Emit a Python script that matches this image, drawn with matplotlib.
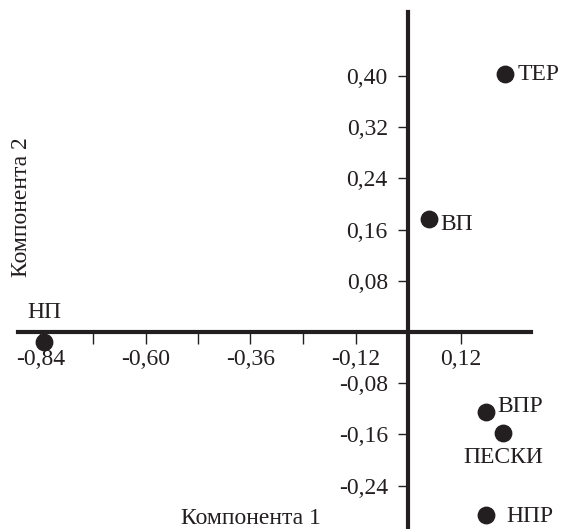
import matplotlib
matplotlib.use("Agg")
import matplotlib.pyplot as plt
from matplotlib.ticker import FixedLocator, FuncFormatter

plt.rcParams['font.family'] = ['Liberation Serif', 'DejaVu Serif']

names = ['ТЕР', 'ВП', 'НП', 'ВПР', 'ПЕСКИ', 'НПР']
comp1 = [0.222, 0.048, -0.832, 0.178, 0.217, 0.178]
comp2 = [0.403, 0.177, -0.016, -0.125, -0.158, -0.286]

x_labeled = [-0.84, -0.60, -0.36, -0.12, 0.12]
x_minor = [-0.72, -0.48, -0.24]
y_ticks = [-0.24, -0.16, -0.08, 0.08, 0.16, 0.24, 0.32, 0.40]

# label offsets in points (dx, dy, ha, va)
label_pos = {
    'ТЕР': (9, 0, 'left', 'center'),
    'ВП': (8, -4, 'left', 'center'),
    'НП': (0, 14, 'center', 'bottom'),
    'ВПР': (8, 4, 'left', 'center'),
    'ПЕСКИ': (0, -10, 'center', 'top'),
    'НПР': (15, -1, 'left', 'center'),
}

fs = 17
fig = plt.figure(figsize=(5.68, 5.29), dpi=100)
ax = fig.add_axes([0, 0, 1, 1])
ax.set_xlim(-408/437.5, 160/437.5)
ax.set_ylim((332-529)/640, 332/640)

col = '#231f20'
ax.scatter(comp1, comp2, s=140, color=col, zorder=5, clip_on=False)
for n, x, y in zip(names, comp1, comp2):
    dx, dy, ha, va = label_pos[n]
    ax.annotate(n, (x, y), xytext=(dx, dy), textcoords='offset points',
                ha=ha, va=va, fontsize=fs, color=col)

for s in ['top', 'right']:
    ax.spines[s].set_visible(False)
ax.spines['left'].set_position(('data', 0))
ax.spines['bottom'].set_position(('data', 0))
ax.spines['left'].set_bounds(-0.31, 0.50)
ax.spines['bottom'].set_bounds(-0.891, 0.282)
for s in ['left', 'bottom']:
    ax.spines[s].set_linewidth(3.0)
    ax.spines[s].set_color(col)

fmt = FuncFormatter(lambda v, p: f"{v:.2f}".replace('.', ','))
ax.xaxis.set_major_locator(FixedLocator(x_labeled))
ax.xaxis.set_minor_locator(FixedLocator(x_minor))
ax.xaxis.set_major_formatter(fmt)
ax.yaxis.set_major_locator(FixedLocator(y_ticks))
ax.yaxis.set_major_formatter(fmt)
ax.tick_params(axis='x', which='both', direction='out', length=8.5, width=1.0,
               color=col, labelsize=fs, labelcolor=col, pad=4)
ax.tick_params(axis='y', which='major', direction='out', length=7, width=1.0,
               color=col, labelsize=fs, labelcolor=col, pad=7.5)

fig.text(251/568, 1-519/529, 'Компонента 1', ha='center', va='center',
         fontsize=fs, color=col)
fig.text(22/568, 1-207/529, 'Компонента 2', ha='center', va='center',
         rotation=90, fontsize=fs, color=col)

fig.savefig('out.png', dpi=100)
